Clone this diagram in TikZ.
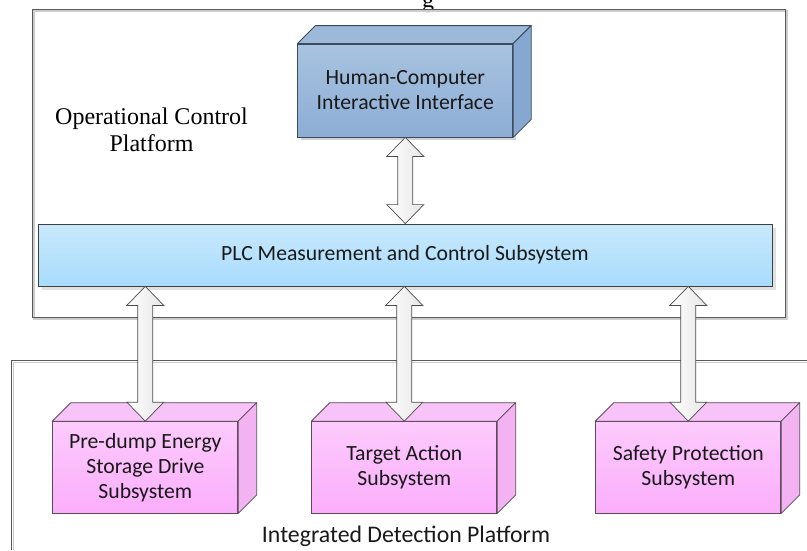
\documentclass[tikz,border=0pt]{standalone}
\usepackage{fontspec}
\setmainfont{Liberation Serif}
\newfontfamily\carlito{Carlito}
\usetikzlibrary{calc,positioning,shadows}

\definecolor{hcifronttop}{HTML}{A8C3E0}
\definecolor{hcifrontbot}{HTML}{8CADD5}
\definecolor{hcitopface}{HTML}{9DB9DA}
\definecolor{hcisideface}{HTML}{86A7CF}
\definecolor{hciline}{HTML}{3C4A5C}
\definecolor{plctop}{HTML}{C8E8FB}
\definecolor{plcbot}{HTML}{A8DCFD}
\definecolor{pinktop}{HTML}{FCCBFC}
\definecolor{pinkbot}{HTML}{FBAEFB}
\definecolor{pinktopface}{HTML}{F8C3F8}
\definecolor{pinksideface}{HTML}{F3B3F3}
\definecolor{pinkline}{HTML}{5C4A5C}

% top and right faces of a box node
\newcommand\boxfaces[5]{%
  \filldraw[fill=#3,draw=#5,line width=0.8pt,line join=round] (#1.north west) -- ++(#2,-#2) -- ([shift={(#2,-#2)}]#1.north east) -- (#1.north east) -- cycle;
  \filldraw[fill=#4,draw=#5,line width=0.8pt,line join=round] (#1.north east) -- ++(#2,-#2) -- ([shift={(#2,-#2)}]#1.south east) -- (#1.south east) -- cycle;}

% hollow double arrow, #1 upper end, #2 lower end
\newcommand\twoway[2]{%
  \draw[twowayarrow] let \p1=(#1), \p2=(#2) in
    (\x1,\y1) -- (\x1+18.5pt,\y1-19pt) -- (\x1+7.5pt,\y1-19pt) -- (\x2+7.5pt,\y2+19pt)
    -- (\x2+18.5pt,\y2+19pt) -- (\x2,\y2) -- (\x2-18.5pt,\y2+19pt) -- (\x2-7.5pt,\y2+19pt)
    -- (\x1-7.5pt,\y1-19pt) -- (\x1-18.5pt,\y1-19pt) -- cycle;}

\begin{document}
\begin{tikzpicture}[x=1pt,y=-1pt,inner sep=0pt,
  boxtext/.style={align=center,font=\carlito\fontsize{21.7}{25}\selectfont,text=black!90},
  hcibox/.style={boxtext,draw=hciline,line width=0.8pt,top color=hcifronttop,bottom color=hcifrontbot,
    minimum width=215pt,minimum height=93pt,drop shadow={shadow xshift=3pt,shadow yshift=-3pt,fill=black!18,opacity=1}},
  plcbox/.style={boxtext,draw=black!75,line width=0.8pt,top color=plctop,bottom color=plcbot,
    minimum width=734pt,minimum height=62pt,drop shadow={shadow xshift=4pt,shadow yshift=-4pt,fill=black!12,opacity=1}},
  subbox/.style={boxtext,draw=pinkline,line width=0.8pt,top color=pinktop,bottom color=pinkbot,
    minimum width=185pt,minimum height=91.5pt},
  twowayarrow/.style={draw=black!70,line width=0.7pt,line join=miter,left color=white,right color=black!10},
  frame/.style={draw=black!65,line width=1pt}
]
\useasboundingbox (0,0) rectangle (807,550);

% caption cut off at the top
\node[anchor=base,font=\fontsize{24}{28}\selectfont] (capg) at (428,7) {g};

% platforms
\draw[black!20,line width=1.2pt] (34,11) rectangle (787,319);
\draw[frame] (32,9) rectangle (785,317);
\node[font=\fontsize{24}{27.5}\selectfont,align=center] (ocp) at (151.5,130) {Operational Control\\Platform};

\draw[black!20,line width=1.2pt] (807,362.5) -- (13.5,362.5) -- (13.5,550);
\draw[frame] (807,360) -- (11,360) -- (11,550);
\node[anchor=base,font=\carlito\fontsize{23.8}{28}\selectfont,text=black!90] (idp) at (406,542.5) {Integrated Detection Platform};

% boxes
\node[hcibox] (hci) at (405.3,90.5) {Human-Computer\\Interactive Interface};
\boxfaces{hci}{18}{hcitopface}{hcisideface}{hciline}

\node[plcbox] (plc) at (405,255) {PLC Measurement and Control Subsystem};

\node[subbox] (drive) at (145.3,467.3) {Pre-dump Energy\\Storage Drive\\Subsystem};
\node[subbox] (target) at (404.3,467.3) {Target Action\\Subsystem};
\node[subbox] (safety) at (688.3,467.3) {Safety Protection\\Subsystem};
\foreach \n in {drive,target,safety}{
  \boxfaces{\n}{18.5}{pinktopface}{pinksideface}{pinkline}}

% links
\twoway{hci.south}{plc.north -| hci.south}
\twoway{drive.north |- plc.south}{drive.north}
\twoway{target.north |- plc.south}{target.north}
\twoway{safety.north |- plc.south}{safety.north}

\end{tikzpicture}
\end{document}
